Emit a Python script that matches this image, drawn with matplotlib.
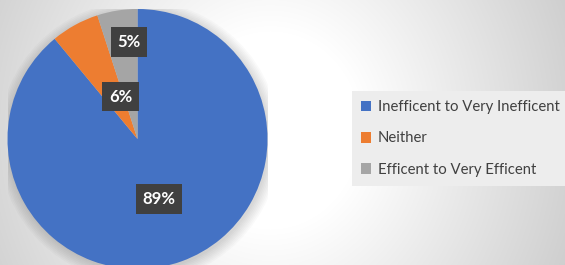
import numpy as np
import matplotlib
matplotlib.use("Agg")
import matplotlib.pyplot as plt
from matplotlib.patches import Circle

categories = ["Inefficent to Very Inefficent", "Neither", "Efficent to Very Efficent"]
values = [89, 6, 5]
colors = ["#4472C4", "#ED7D31", "#A5A5A5"]
pct_labels = ["89%", "6%", "5%"]

W, H = 565, 265
fig = plt.figure(figsize=(W / 100, H / 100), dpi=100)

# background radial gradient
bg = fig.add_axes([0, 0, 1, 1])
yy, xx = np.mgrid[0:H, 0:W]
d = np.sqrt(((xx - 270) / 1.0) ** 2 + ((yy - 130) / 1.1) ** 2)
t = np.clip((d - 90) / 230, 0, 1)
g = 1.0 - t * (1.0 - 0.81)
bg.imshow(np.dstack([g, g, g]), extent=[0, W, H, 0], aspect="auto", interpolation="bilinear")
bg.set_xlim(0, W); bg.set_ylim(H, 0)
bg.axis("off")

# pie axes
cx, cy, r = 137.5, 139.0, 130.0
ax = fig.add_axes([(cx - r) / W, (H - cy - r) / H, 2 * r / W, 2 * r / H])
ax.patch.set_alpha(0)

# soft shadow
for i in range(8):
    ax.add_patch(Circle((0.012, -0.02), 1.0 + 0.012 * i, facecolor="black",
                        alpha=0.018, edgecolor="none", zorder=0))

wedges, _ = ax.pie(values, colors=colors, startangle=90, counterclock=False,
                   radius=1.0, wedgeprops=dict(linewidth=0, zorder=2))
ax.set_xlim(-1, 1); ax.set_ylim(-1, 1)
ax.set_aspect("equal")
ax.axis("off")

label_dist = [0.49, 0.35, 0.75]
label_shift = [0, -7, -4]
for w, lab, dist, sh in zip(wedges, pct_labels, label_dist, label_shift):
    mid = np.deg2rad((w.theta1 + w.theta2) / 2 + sh)
    x, y = dist * np.cos(mid), dist * np.sin(mid)
    ax.text(x, y, lab, ha="center", va="center", color="white", fontsize=12,
            fontweight="bold", family=["Lato", "DejaVu Sans"], zorder=5,
            bbox=dict(boxstyle="square,pad=0.4", facecolor="#404040", edgecolor="none"))

leg = fig.legend(wedges, categories, loc="center left",
                 bbox_to_anchor=(352 / W, (H - 138.5) / H), ncol=1,
                 frameon=True, fancybox=False, facecolor="#EDEDED", edgecolor="none",
                 framealpha=1, borderaxespad=0,
                 prop=dict(family=["Lato", "DejaVu Sans"], size=10.7),
                 handlelength=0.7, handleheight=0.7, handletextpad=0.45,
                 labelspacing=1.15, borderpad=0.6)
for txt in leg.get_texts():
    txt.set_color("#404040")

fig.savefig("out.png", dpi=100)
